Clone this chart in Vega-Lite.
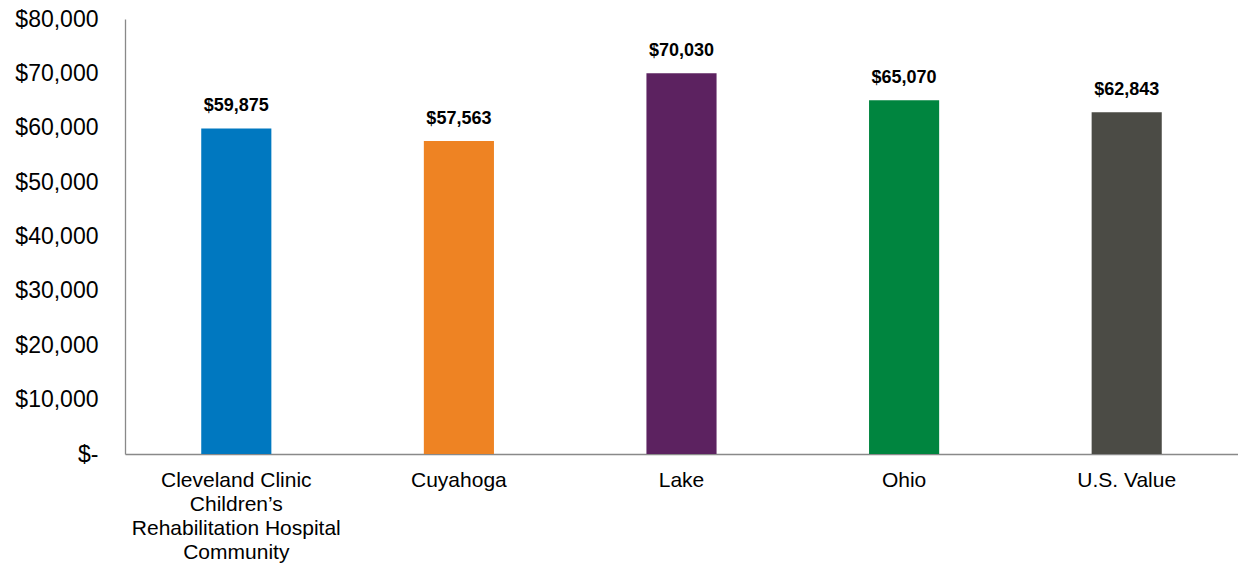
{
  "$schema": "https://vega.github.io/schema/vega-lite/v6.json",
  "width": 1113,
  "height": 435,
  "autosize": {"type": "none"},
  "padding": {"left": 125, "top": 19, "right": 0, "bottom": 110},
  "background": "white",
  "config": {"view": {"stroke": null}, "font": "Liberation Sans"},
  "data": {"values": [
    {"area": "Cleveland Clinic|Children’s|Rehabilitation Hospital|Community", "value": 59875, "color": "#0078C0"},
    {"area": "Cuyahoga", "value": 57563, "color": "#EE8323"},
    {"area": "Lake", "value": 70030, "color": "#5C2260"},
    {"area": "Ohio", "value": 65070, "color": "#00853F"},
    {"area": "U.S. Value", "value": 62843, "color": "#4B4B45"}
  ]},
  "encoding": {
    "x": {"field": "area", "type": "nominal", "sort": null,
      "scale": {"paddingInner": 0.685, "paddingOuter": 0.3425},
      "axis": {"title": null, "labelAngle": 0, "ticks": false, "domainColor": "#898989", "domainWidth": 1.3,
        "labelExpr": "split(datum.value, '|')", "labelFontSize": 21, "labelColor": "#000000",
        "labelLineHeight": 24, "labelPadding": 15, "labelBaseline": "top", "labelLimit": 0, "labelOverlap": false}},
    "y": {"field": "value", "type": "quantitative",
      "scale": {"domain": [0, 80000], "nice": false},
      "axis": {"title": null, "grid": false, "ticks": false, "values": [0,10000,20000,30000,40000,50000,60000,70000,80000],
        "domainColor": "#898989", "domainWidth": 1.3, "labelOverlap": false,
        "labelExpr": "datum.value == 0 ? '$-\u2007\u2007' : '$' + format(datum.value, ',')",
        "labelFontSize": 23, "labelColor": "#000000", "labelPadding": 27}}
  },
  "layer": [
    {"mark": {"type": "bar"}, "encoding": {"color": {"field": "color", "type": "nominal", "scale": null}}},
    {"mark": {"type": "text", "baseline": "bottom", "dy": -13, "fontSize": 18, "fontWeight": "bold", "color": "#000000"},
      "encoding": {"text": {"field": "value", "type": "quantitative", "format": "$,"}}}
  ]
}
